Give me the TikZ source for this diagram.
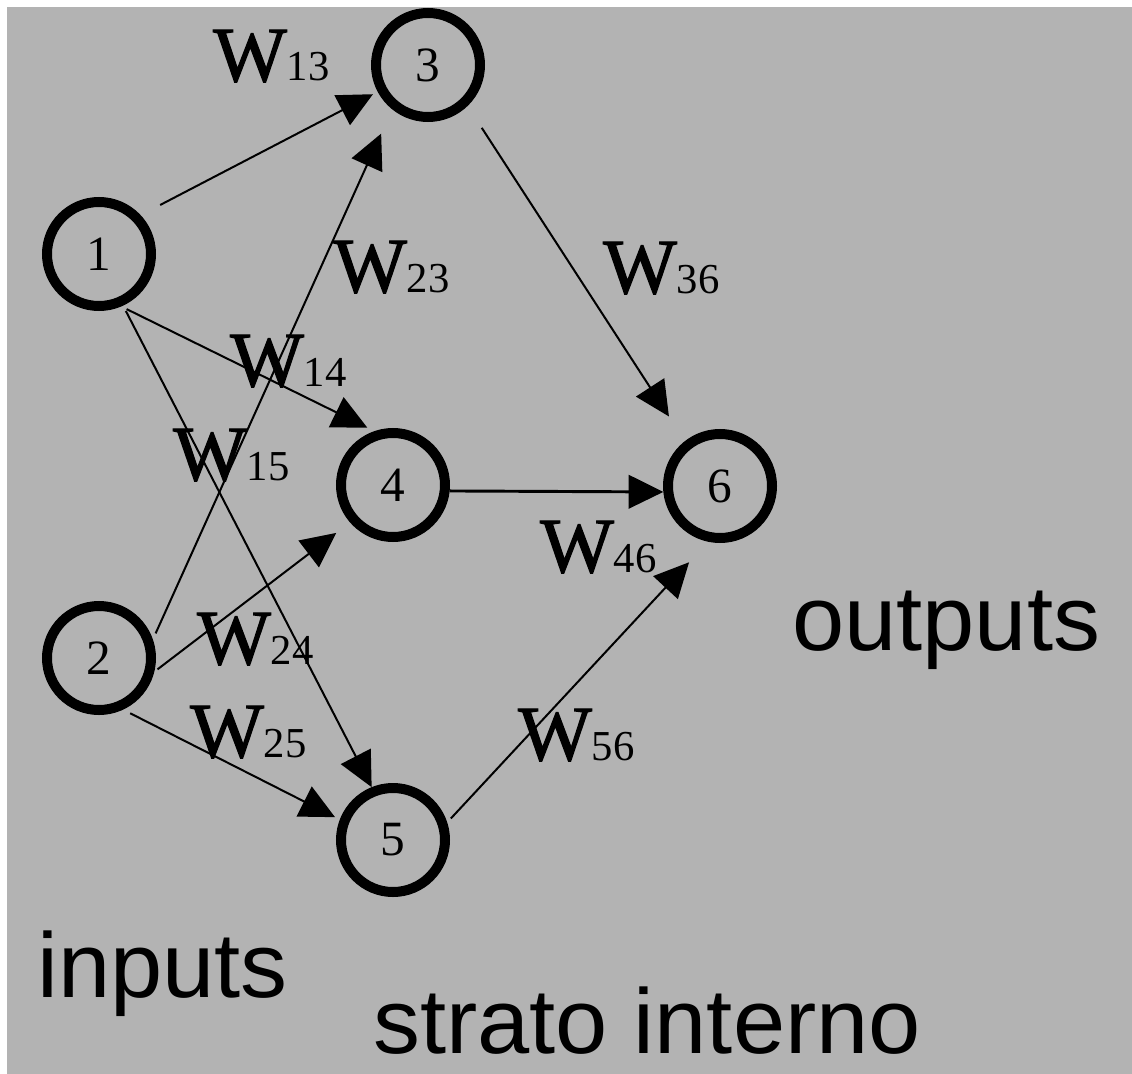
\documentclass[tikz,border=0pt]{standalone}
\usepackage{fontspec}
\setmainfont{Liberation Serif}
\newfontfamily\labelsans{Liberation Sans}
\newfontfamily\wfont[FakeBold=1.6]{Liberation Serif}
\usetikzlibrary{arrows.meta}
\definecolor{panelgrey}{HTML}{B3B3B3}

% weight label: large W followed by small index digits
\newcommand\wlab[1]{{\wfont\fontsize{58.5pt}{60pt}\selectfont W}{\fontsize{32pt}{34pt}\selectfont #1}}

\begin{document}
\begin{tikzpicture}[x=0.75pt,y=-0.75pt,
  neuron/.style={circle,draw=black,line width=7.5pt,minimum size=78pt,inner sep=0pt,
    font=\fontsize{37pt}{38pt}\selectfont},
  link/.style={draw=black,line width=1.5pt,-{Triangle[length=26pt,width=25pt]}},
  weight/.style={anchor=base west,inner sep=0pt},
  caption/.style={anchor=base west,inner sep=0pt,xscale=1.02,
    font=\labelsans\fontsize{69pt}{70pt}\selectfont}]

  % canvas: thin white frame on the top and left, grey panel
  \path[use as bounding box,fill=white] (0,0) rectangle (1132,1074);
  \fill[panelgrey] (7,7) rectangle (1140,1082);

  % neurons
  \node[neuron] (n1) at (99,254) {1};
  \node[neuron] (n2) at (99,658) {2};
  \node[neuron] (n3) at (428,65) {3};
  \node[neuron] (n4) at (393,485) {4};
  \node[neuron] (n5) at (393,840) {5};
  \node[neuron] (n6) at (720,486) {6};

  % weighted connections
  \draw[link,shorten <=16.5pt,shorten >=4pt] (n1.43) -- (n3.208);
  \draw[link,shorten <=5pt,shorten >=20pt] (n2.19) -- (n3.231);
  \draw[link,shorten <=4.5pt,shorten >=6pt] (n1.-67.5) -- (n4.109);
  \draw[link,shorten <=4.5pt] (n1.-65) -- (n5.112);
  \draw[link,shorten <=3pt,shorten >=13pt] (n2.-14) -- (n4.221);
  \draw[link,shorten <=6pt,shorten >=4pt] (n2.-65) -- (n5.159);
  \draw[link,shorten <=19.5pt,shorten >=22pt] (n3.-46.5) -- (n6.128);
  \draw[link,line width=2.2pt] (n4.-6) -- (n6.186);
  \draw[link,shorten <=4pt,shorten >=21pt] (n5.18.7) -- (n6.258);

  % weight labels
  \node[weight] (w13) at (213,81) {\wlab{13}};
  \node[weight] (w23) at (333,292) {\wlab{23}};
  \node[weight] (w14) at (230,386) {\wlab{14}};
  \node[weight] (w15) at (173,480) {\wlab{15}};
  \node[weight] (w24) at (197,664) {\wlab{24}};
  \node[weight] (w25) at (190,757) {\wlab{25}};
  \node[weight] (w36) at (603,293) {\wlab{36}};
  \node[weight] (w46) at (540,572) {\wlab{46}};
  \node[weight] (w56) at (518,760) {\wlab{56}};

  % layer captions
  \node[caption] (inputs) at (37,997) {inputs};
  \node[caption] (outputs) at (792,650) {outputs};
  \node[caption] (hidden) at (373,1053) {strato interno};
\end{tikzpicture}
\end{document}
